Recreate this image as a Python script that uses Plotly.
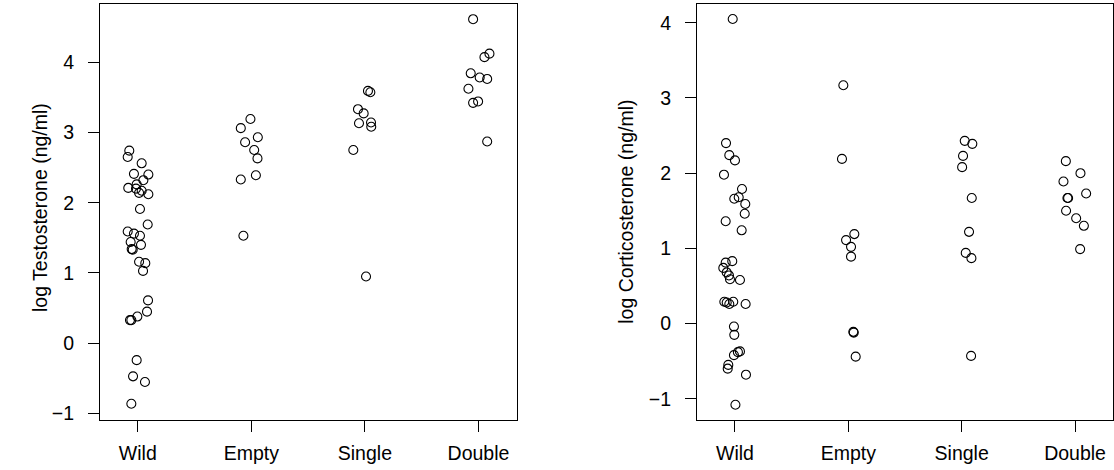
import plotly.graph_objects as go

groups = ["Wild", "Empty", "Single", "Double"]

# Left panel: log Testosterone (ng/ml)
testo_wild = [2.74, 2.65, 2.56, 2.41, 2.40, 2.32, 2.26, 2.21, 2.20, 2.17, 2.14, 2.12, 1.91,
              1.69, 1.59, 1.56, 1.53, 1.44, 1.40, 1.34, 1.33, 1.16, 1.14, 1.03, 0.61, 0.45,
              0.38, 0.33, 0.33, -0.24, -0.47, -0.55, -0.86]
testo_wild_jit = [-0.075, -0.089, 0.034, -0.034, 0.093, 0.049, -0.010, -0.084, -0.016, 0.034, 0.011,
                  0.093, 0.019, 0.087, -0.089, -0.034, 0.019, -0.063, 0.028, -0.054, -0.045, 0.011,
                  0.066, 0.046, 0.090, 0.081, -0.004, -0.069, -0.057, -0.010, -0.042, 0.063, -0.057]
testo_empty = [3.19, 3.06, 2.93, 2.86, 2.75, 2.63, 2.39, 2.33, 1.53]
testo_empty_jit = [-0.008, -0.093, 0.057, -0.055, 0.025, 0.054, 0.040, -0.093, -0.070]
testo_single = [3.59, 3.57, 3.33, 3.27, 3.13, 3.14, 3.08, 2.75, 0.95]
testo_single_jit = [0.027, 0.048, -0.061, -0.011, -0.052, 0.054, 0.056, -0.102, 0.010]
testo_double = [4.61, 4.07, 4.12, 3.84, 3.78, 3.76, 3.62, 3.42, 3.44, 2.87]
testo_double_jit = [-0.047, 0.053, 0.097, -0.068, 0.011, 0.077, -0.088, -0.047, -0.003, 0.077]

# Right panel: log Corticosterone (ng/ml)
cort_wild = [4.05, 2.40, 2.24, 2.17, 1.98, 1.79, 1.66, 1.68, 1.59, 1.46, 1.36, 1.24, 0.83,
             0.81, 0.74, 0.68, 0.64, 0.59, 0.58, 0.29, 0.28, 0.26, 0.29, 0.26, -0.04, -0.15,
             -0.37, -0.38, -0.42, -0.55, -0.60, -0.68, -1.08]
cort_wild_jit = [-0.020, -0.079, -0.050, 0.0, -0.097, 0.062, -0.006, 0.033, 0.091, 0.086, -0.082,
                 0.059, -0.024, -0.082, -0.103, -0.073, -0.053, -0.044, 0.044, -0.094, -0.073,
                 -0.050, -0.015, 0.094, -0.009, -0.006, 0.044, 0.026, -0.009, -0.059, -0.064,
                 0.097, 0.004]
cort_empty = [3.17, 2.19, 1.19, 1.11, 1.02, 0.89, -0.11, -0.12, -0.44]
cort_empty_jit = [-0.044, -0.056, 0.053, -0.020, 0.024, 0.024, 0.044, 0.048, 0.065]
cort_single = [2.43, 2.39, 2.23, 2.08, 1.67, 1.22, 0.94, 0.87, -0.43]
cort_single_jit = [0.027, 0.094, 0.012, 0.004, 0.089, 0.065, 0.036, 0.086, 0.083]
cort_double = [2.16, 2.00, 1.89, 1.73, 1.67, 1.67, 1.50, 1.40, 1.30, 0.99]
cort_double_jit = [-0.081, 0.048, -0.102, 0.098, -0.067, -0.061, -0.079, 0.010, 0.078, 0.045]

y_ticks = [-1, 0, 1, 2, 3, 4]
y_tick_text = ["\u22121", "0", "1", "2", "3", "4"]

W, H = 1114, 470
FONT = "Liberation Sans, Arial, sans-serif"
FS = 19.5

fig = go.Figure()

def add_panel(values, jitters, xa, ya):
    xs, ys = [], []
    for gi, (vals, jits) in enumerate(zip(values, jitters)):
        for v, j in zip(vals, jits):
            xs.append(gi + 1 + j)
            ys.append(v)
    fig.add_trace(go.Scatter(
        x=xs, y=ys, mode="markers", xaxis=xa, yaxis=ya, showlegend=False,
        marker=dict(symbol="circle-open", size=9, color="black", line=dict(width=1.1, color="black")),
        hoverinfo="skip"))

add_panel([testo_wild, testo_empty, testo_single, testo_double],
          [testo_wild_jit, testo_empty_jit, testo_single_jit, testo_double_jit], "x", "y")
add_panel([cort_wild, cort_empty, cort_single, cort_double],
          [cort_wild_jit, cort_empty_jit, cort_single_jit, cort_double_jit], "x2", "y2")

def px_x(p):
    return p / W

def px_y(p):
    return (H - p) / H

ydom = [px_y(419.5), px_y(4)]

xcommon = dict(tickmode="array", tickvals=[1, 2, 3, 4], ticktext=groups,
               showline=True, mirror=True, linecolor="black", linewidth=1,
               ticks="outside", ticklen=11, tickwidth=1, tickcolor="black",
               showgrid=False, zeroline=False, automargin=False,
               ticklabelstandoff=5,
               tickfont=dict(family=FONT, size=FS, color="black"), fixedrange=True)
ycommon = dict(tickmode="array", tickvals=y_ticks, ticktext=y_tick_text,
               showline=True, mirror=True, linecolor="black", linewidth=1,
               ticks="outside", ticklen=11, tickwidth=1, tickcolor="black",
               showgrid=False, zeroline=False, automargin=False,
               ticklabelstandoff=10,
               tickfont=dict(family=FONT, size=FS, color="black"), fixedrange=True)

fig.update_layout(
    width=W, height=H,
    margin=dict(l=0, r=0, t=0, b=0),
    paper_bgcolor="white", plot_bgcolor="white",
    xaxis=dict(domain=[px_x(100), px_x(516.7)], range=[0.667, 4.337], anchor="y", **xcommon),
    yaxis=dict(domain=ydom, range=[-1.084, 4.826], anchor="x", **ycommon),
    xaxis2=dict(domain=[px_x(697), px_x(1113)], range=[0.665, 4.335], anchor="y2", **xcommon),
    yaxis2=dict(domain=ydom, range=[-1.276, 4.25], anchor="x2", **ycommon),
    annotations=[
        dict(text="log Testosterone (ng/ml)", x=px_x(40), y=px_y(208), xref="paper", yref="paper",
             textangle=-90, showarrow=False, xanchor="center", yanchor="middle",
             font=dict(family=FONT, size=FS, color="black")),
        dict(text="log Corticosterone (ng/ml)", x=px_x(626), y=px_y(211.8), xref="paper", yref="paper",
             textangle=-90, showarrow=False, xanchor="center", yanchor="middle",
             font=dict(family=FONT, size=FS, color="black")),
    ],
)

fig.write_html("out.html")
